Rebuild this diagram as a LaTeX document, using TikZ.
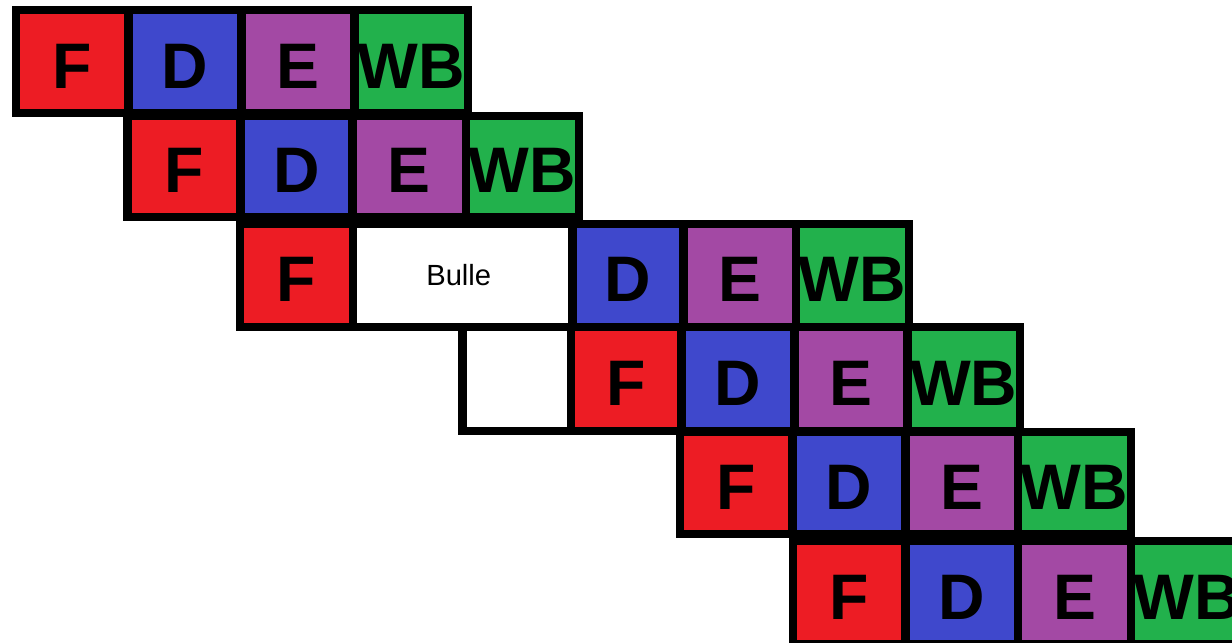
\documentclass[tikz,border=0pt]{standalone}
\usepackage{fontspec}
\setmainfont{Liberation Sans}
\definecolor{pred}{HTML}{ED1C24}
\definecolor{pblue}{HTML}{3F48CC}
\definecolor{ppurple}{HTML}{A349A4}
\definecolor{pgreen}{HTML}{22B14C}
\tikzset{
  stage/.style={draw=black, line width=0.08cm, inner sep=0pt, outer sep=0pt,
    font=\fontsize{18.3}{18.3}\selectfont\bfseries, text height=15pt, text depth=0pt},
  fetch/.style={stage, fill=pred},
  decode/.style={stage, fill=pblue},
  execute/.style={stage, fill=ppurple},
  writeback/.style={stage, fill=pgreen},
  bubble/.style={draw=black, line width=0.08cm, inner sep=0pt, outer sep=0pt, fill=white,
    font=\fontsize{8.3}{8.3}\selectfont},
}
% name, style, x1, y1, x2, y2, text  (pixel coordinates of the border lines)
\newcommand\pipecell[7]{%
  \pgfmathsetmacro\pcw{(#5-#3)*0.01}%
  \pgfmathsetmacro\pch{(#6-#4)*0.01}%
  \node[#2, minimum width=\pcw cm, minimum height=\pch cm] (#1) at ({(#3+#5)/2},{(#4+#6)/2}) {#7};}
\begin{document}
\begin{tikzpicture}[x=0.01cm, y=-0.01cm]
\useasboundingbox[fill=white] (0,0) rectangle (1232,643);
% row 1
\pipecell{a1}{fetch}{16}{10.5}{128.5}{113}{F}
\pipecell{a2}{decode}{128.5}{10.5}{241.5}{113}{D}
\pipecell{a3}{execute}{241.5}{10.5}{354.5}{113}{E}
\pipecell{a4}{writeback}{354.5}{10.5}{467.5}{113}{WB}
% row 2
\pipecell{b1}{fetch}{127.5}{116}{240.5}{217}{F}
\pipecell{b2}{decode}{240.5}{116}{352.5}{217}{D}
\pipecell{b3}{execute}{352.5}{116}{466}{217}{E}
\pipecell{b4}{writeback}{466}{116}{579}{217}{WB}
% row 3
\pipecell{c1}{fetch}{240}{224}{353}{327}{F}
\pipecell{c0}{bubble}{353}{224}{572.5}{327}{\hspace*{-0.08cm}Bulle}
\pipecell{c2}{decode}{572.5}{224}{683.5}{327}{D}
\pipecell{c3}{execute}{683.5}{224}{796}{327}{E}
\pipecell{c4}{writeback}{796}{224}{908.5}{327}{WB}
% row 4
\pipecell{d0}{bubble}{462.5}{327.5}{571}{431.5}{}
\pipecell{d1}{fetch}{571}{327.5}{681.5}{431}{F}
\pipecell{d2}{decode}{681.5}{327.5}{794.5}{431}{D}
\pipecell{d3}{execute}{794.5}{327.5}{907.5}{431}{E}
\pipecell{d4}{writeback}{907.5}{327.5}{1020}{431}{WB}
% row 5
\pipecell{e1}{fetch}{680}{432}{792.5}{534}{F}
\pipecell{e2}{decode}{792.5}{432}{905.5}{534}{D}
\pipecell{e3}{execute}{905.5}{432}{1018}{534}{E}
\pipecell{e4}{writeback}{1018}{432}{1131}{534}{WB}
% row 6
\pipecell{f1}{fetch}{793}{541.5}{905.5}{644.5}{F}
\pipecell{f2}{decode}{905.5}{541.5}{1018}{644.5}{D}
\pipecell{f3}{execute}{1018}{541.5}{1131}{644.5}{E}
\pipecell{f4}{writeback}{1131}{541.5}{1244}{644.5}{WB}
\end{tikzpicture}
\end{document}
